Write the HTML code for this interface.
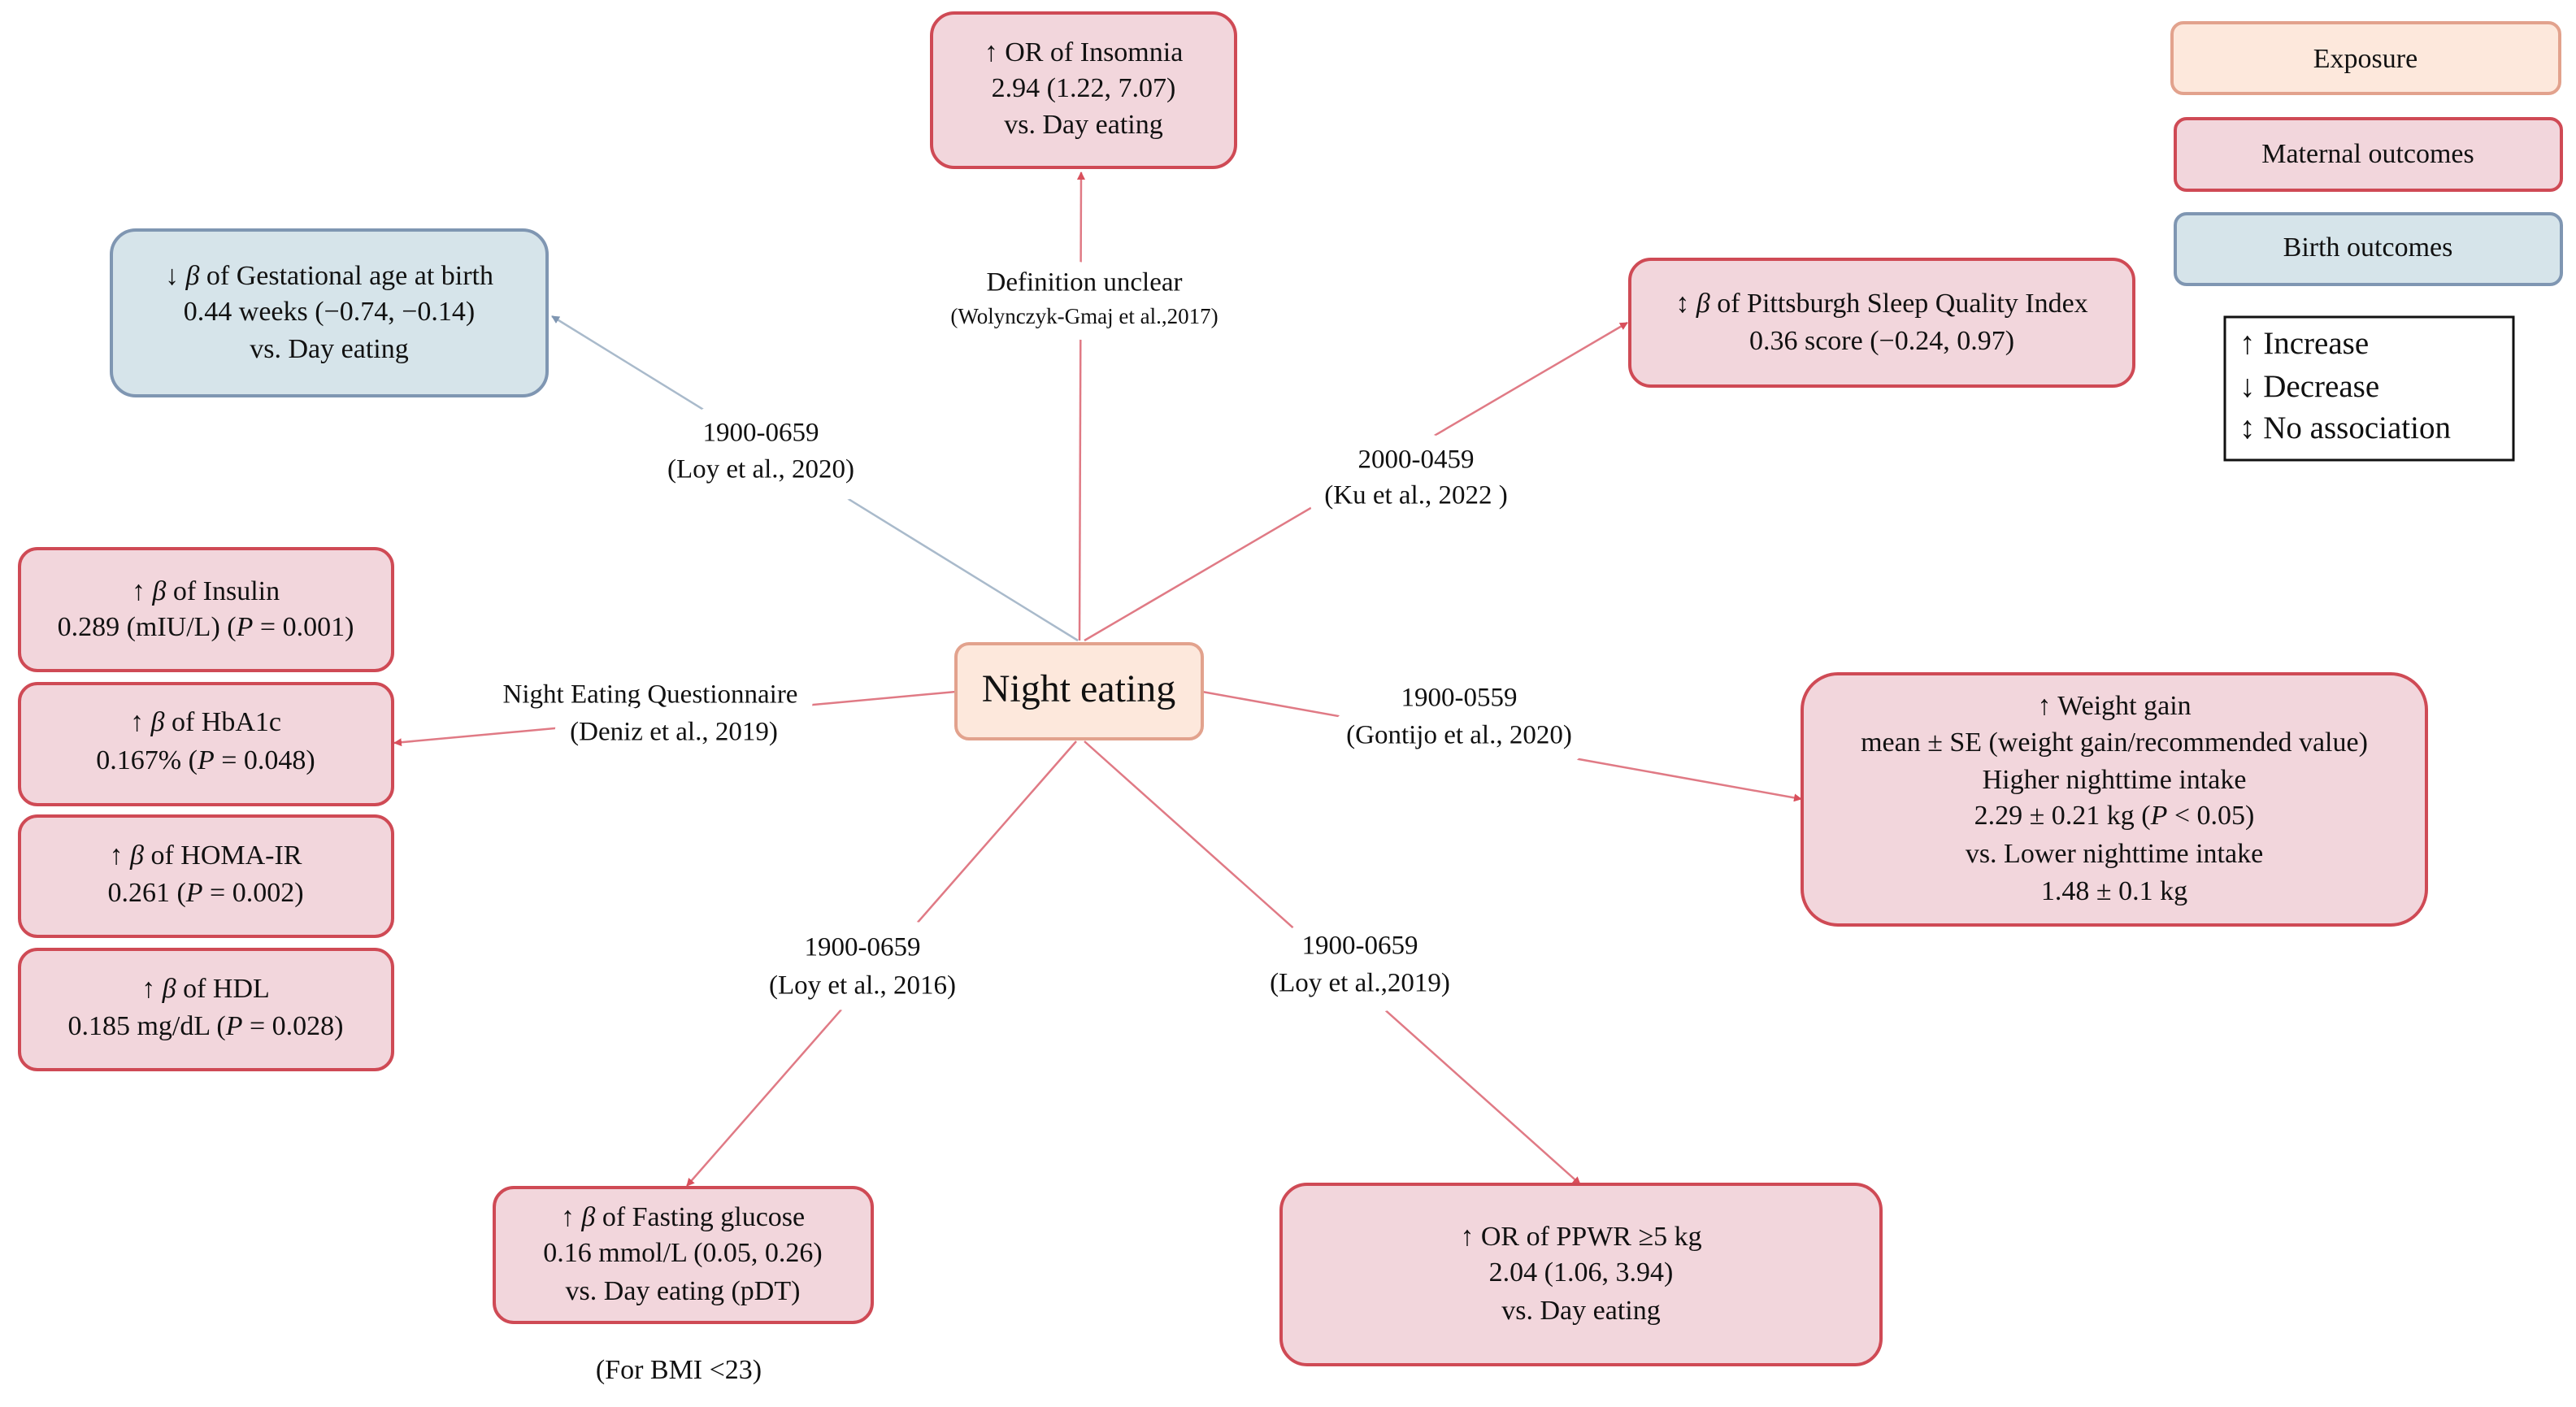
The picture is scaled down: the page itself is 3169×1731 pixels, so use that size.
<!DOCTYPE html>
<html><head><meta charset="utf-8"><style>
html,body{margin:0;padding:0;background:#fff;}
svg{display:block;}
text{font-family:"Liberation Serif",serif;fill:#111;}
</style></head><body>
<svg width="3169" height="1731" viewBox="0 0 3169 1731" xmlns="http://www.w3.org/2000/svg">
<defs>
<marker id="ar" markerWidth="10" markerHeight="10" refX="9" refY="5" orient="auto" markerUnits="userSpaceOnUse" viewBox="0 0 10 10"><path d="M0,0 L10,5 L0,10 z" fill="#d9505c"/></marker>
<marker id="ab" markerWidth="10" markerHeight="10" refX="9" refY="5" orient="auto" markerUnits="userSpaceOnUse" viewBox="0 0 10 10"><path d="M0,0 L10,5 L0,10 z" fill="#7f96b2"/></marker>
</defs>
<g stroke-width="2.5" fill="none">
<line x1="1328" y1="788" x2="1330" y2="212" stroke="#e07a85" marker-end="url(#ar)"/>
<line x1="1326" y1="788" x2="679" y2="389" stroke="#a9bacb" marker-end="url(#ab)"/>
<line x1="1334" y1="788" x2="2002" y2="397" stroke="#e07a85" marker-end="url(#ar)"/>
<line x1="1176" y1="851" x2="485" y2="914" stroke="#e07a85" marker-end="url(#ar)"/>
<line x1="1479" y1="851" x2="2216" y2="983" stroke="#e07a85" marker-end="url(#ar)"/>
<line x1="1324" y1="912" x2="845" y2="1459" stroke="#e07a85" marker-end="url(#ar)"/>
<line x1="1334" y1="912" x2="1944" y2="1457" stroke="#e07a85" marker-end="url(#ar)"/>
</g>
<g text-anchor="middle" dominant-baseline="middle" font-size="33" stroke="#fff" stroke-width="40" paint-order="stroke" stroke-linejoin="round">
<text x="1334" y="350">Definition unclear</text>
<text x="1334" y="392" font-size="27">(Wolynczyk-Gmaj et al.,2017)</text>
<text x="936" y="535">1900-0659</text>
<text x="936" y="580">(Loy et al., 2020)</text>
<text x="1742" y="568">2000-0459</text>
<text x="1742" y="612">(Ku et al., 2022 )</text>
<text x="800" y="857">Night Eating Questionnaire</text>
<text x="829" y="903">(Deniz et al., 2019)</text>
<text x="1795" y="861">1900-0559</text>
<text x="1795" y="907">(Gontijo et al., 2020)</text>
<text x="1061" y="1168">1900-0659</text>
<text x="1061" y="1215">(Loy et al., 2016)</text>
<text x="1673" y="1166">1900-0659</text>
<text x="1673" y="1212">(Loy et al.,2019)</text>
</g>
<g stroke-width="4">
<rect x="1146" y="16" width="374" height="190" rx="28" fill="#f2d6dc" stroke="#cf4a55"/>
<rect x="137" y="283" width="536" height="204" rx="30" fill="#d6e4ea" stroke="#7f96b2"/>
<rect x="2005" y="319" width="620" height="156" rx="26" fill="#f2d6dc" stroke="#cf4a55"/>
<rect x="2672" y="28" width="477" height="87" rx="14" fill="#fde8dc" stroke="#e2a28d"/>
<rect x="2676" y="146" width="475" height="88" rx="14" fill="#f2d6dc" stroke="#cf4a55"/>
<rect x="2676" y="263" width="475" height="87" rx="14" fill="#d6e4ea" stroke="#7f96b2"/>
<rect x="2737" y="390" width="355" height="176" fill="#fff" stroke="#111" stroke-width="3"/>
<rect x="1176" y="792" width="303" height="117" rx="16" fill="#fde8dc" stroke="#e2a28d"/>
<rect x="24" y="675" width="459" height="150" rx="22" fill="#f2d6dc" stroke="#cf4a55"/>
<rect x="24" y="841" width="459" height="149" rx="22" fill="#f2d6dc" stroke="#cf4a55"/>
<rect x="24" y="1004" width="459" height="148" rx="22" fill="#f2d6dc" stroke="#cf4a55"/>
<rect x="24" y="1168" width="459" height="148" rx="22" fill="#f2d6dc" stroke="#cf4a55"/>
<rect x="2217" y="829" width="768" height="309" rx="44" fill="#f2d6dc" stroke="#cf4a55"/>
<rect x="608" y="1461" width="465" height="166" rx="24" fill="#f2d6dc" stroke="#cf4a55"/>
<rect x="1576" y="1457" width="738" height="222" rx="32" fill="#f2d6dc" stroke="#cf4a55"/>
</g>
<g text-anchor="middle" dominant-baseline="middle" font-size="34">
<text x="1333" y="67">↑ OR of Insomnia</text>
<text x="1333" y="111">2.94 (1.22, 7.07)</text>
<text x="1333" y="156">vs. Day eating</text>
<text x="405" y="342">↓ <tspan font-style="italic">β</tspan> of Gestational age at birth</text>
<text x="405" y="386">0.44 weeks (−0.74, −0.14)</text>
<text x="405" y="432">vs. Day eating</text>
<text x="2315" y="376">↕ <tspan font-style="italic">β</tspan> of Pittsburgh Sleep Quality Index</text>
<text x="2315" y="422">0.36 score (−0.24, 0.97)</text>
<text x="2910" y="75">Exposure</text>
<text x="2913" y="192">Maternal outcomes</text>
<text x="2913" y="307">Birth outcomes</text>
<text x="1327" y="852" font-size="48">Night eating</text>
<text x="253" y="730">↑ <tspan font-style="italic">β</tspan> of Insulin</text>
<text x="253" y="774">0.289 (mIU/L) (<tspan font-style="italic">P</tspan> = 0.001)</text>
<text x="253" y="891">↑ <tspan font-style="italic">β</tspan> of HbA1c</text>
<text x="253" y="938">0.167% (<tspan font-style="italic">P</tspan> = 0.048)</text>
<text x="253" y="1055">↑ <tspan font-style="italic">β</tspan> of HOMA-IR</text>
<text x="253" y="1101">0.261 (<tspan font-style="italic">P</tspan> = 0.002)</text>
<text x="253" y="1219">↑ <tspan font-style="italic">β</tspan> of HDL</text>
<text x="253" y="1265">0.185 mg/dL (<tspan font-style="italic">P</tspan> = 0.028)</text>
<text x="2601" y="871">↑ Weight gain</text>
<text x="2601" y="916">mean ± SE (weight gain/recommended value)</text>
<text x="2601" y="962">Higher nighttime intake</text>
<text x="2601" y="1006">2.29 ± 0.21 kg (<tspan font-style="italic">P</tspan> &lt; 0.05)</text>
<text x="2601" y="1053">vs. Lower nighttime intake</text>
<text x="2601" y="1099">1.48 ± 0.1 kg</text>
<text x="840" y="1500">↑ <tspan font-style="italic">β</tspan> of  Fasting glucose</text>
<text x="840" y="1544">0.16  mmol/L (0.05, 0.26)</text>
<text x="840" y="1591">vs. Day eating (pDT)</text>
<text x="1945" y="1524">↑ OR of  PPWR ≥5 kg</text>
<text x="1945" y="1568">2.04 (1.06, 3.94)</text>
<text x="1945" y="1615">vs. Day eating</text>
<text x="835" y="1688">(For BMI &lt;23)</text>
</g>
<g dominant-baseline="middle" font-size="39">
<text x="2755" y="426">↑ Increase</text>
<text x="2755" y="479">↓ Decrease</text>
<text x="2755" y="530">↕ No association</text>
</g>
</svg>
</body></html>
